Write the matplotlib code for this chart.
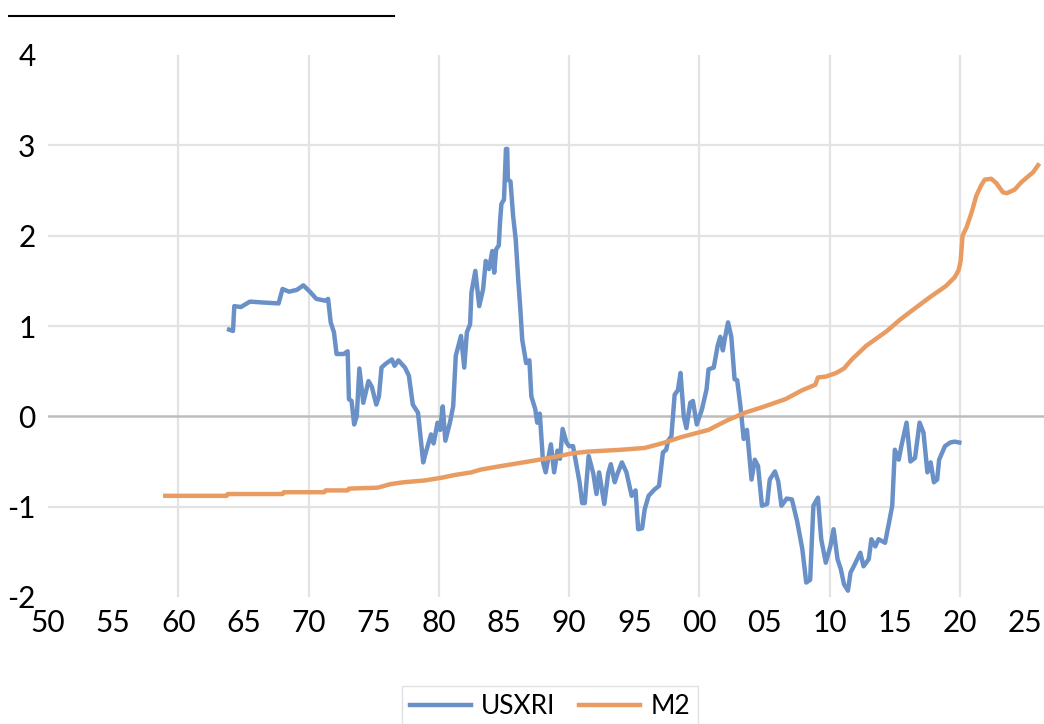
import numpy as np
import matplotlib.pyplot as plt
from matplotlib.lines import Line2D

plt.rcParams['font.family'] = ['Lato', 'DejaVu Sans']
plt.rcParams['axes.unicode_minus'] = False

# USXRI (decimal year, value)
usxri_year = [1963.9, 1964.2, 1964.3, 1964.8, 1965.5, 1966.5, 1967.7, 1968.0, 1968.5, 1969.1,
              1969.6, 1970.1, 1970.6, 1971.3, 1971.5, 1971.7, 1971.95, 1972.15, 1972.7, 1973.0,
              1973.1, 1973.3, 1973.5, 1973.7, 1973.9, 1974.2, 1974.6, 1974.85, 1975.2, 1975.4,
              1975.6, 1975.9, 1976.4, 1976.6, 1976.9, 1977.4, 1977.7, 1978.0, 1978.4, 1978.8,
              1979.0, 1979.4, 1979.6, 1979.9, 1980.1, 1980.3, 1980.5, 1980.85, 1981.1, 1981.3,
              1981.7, 1981.95, 1982.15, 1982.4, 1982.5, 1982.8, 1983.1, 1983.4, 1983.6, 1983.85,
              1984.1, 1984.25, 1984.4, 1984.6, 1984.7, 1984.8, 1985.0, 1985.15, 1985.25, 1985.3,
              1985.5, 1985.7, 1985.9, 1986.1, 1986.25, 1986.4, 1986.7, 1986.95, 1987.1, 1987.4,
              1987.55, 1987.75, 1988.0, 1988.2, 1988.6, 1988.85, 1989.1, 1989.3, 1989.5, 1989.8,
              1990.0, 1990.3, 1990.8, 1991.0, 1991.2, 1991.5, 1991.85, 1992.1, 1992.3, 1992.7,
              1993.0, 1993.2, 1993.5, 1993.7, 1994.05, 1994.4, 1994.8, 1995.1, 1995.3, 1995.6,
              1995.8, 1996.1, 1996.55, 1996.9, 1997.2, 1997.45, 1997.6, 1997.85, 1998.1, 1998.35,
              1998.55, 1998.8, 1999.0, 1999.3, 1999.5, 1999.8, 2000.2, 2000.55, 2000.7, 2001.1,
              2001.4, 2001.6, 2001.8, 2001.95, 2002.2, 2002.45, 2002.7, 2002.9, 2003.15, 2003.4,
              2003.65, 2004.0, 2004.25, 2004.5, 2004.8, 2005.2, 2005.4, 2005.8, 2006.05, 2006.3,
              2006.7, 2007.1, 2007.5, 2007.9, 2008.2, 2008.5, 2008.75, 2009.1, 2009.35, 2009.7,
              2010.05, 2010.3, 2010.6, 2010.85, 2011.1, 2011.4, 2011.6, 2011.85, 2012.35, 2012.6,
              2013.0, 2013.2, 2013.5, 2013.75, 2014.25, 2014.55, 2014.8, 2015.0, 2015.3, 2015.5,
              2015.9, 2016.2, 2016.55, 2016.9, 2017.2, 2017.5, 2017.75, 2018.0, 2018.25, 2018.4,
              2018.85, 2019.25, 2019.6, 2019.95]
usxri_val = [0.96, 0.945, 1.22, 1.21, 1.27, 1.26, 1.25, 1.41, 1.38, 1.40,
             1.45, 1.38, 1.30, 1.28, 1.30, 1.04, 0.93, 0.69, 0.69, 0.72,
             0.19, 0.17, -0.09, 0.00, 0.53, 0.15, 0.39, 0.33, 0.13, 0.22,
             0.54, 0.58, 0.63, 0.56, 0.62, 0.54, 0.45, 0.13, 0.04, -0.51,
             -0.40, -0.20, -0.30, -0.07, -0.15, 0.11, -0.27, -0.07, 0.11, 0.67,
             0.89, 0.54, 0.93, 1.02, 1.37, 1.61, 1.22, 1.41, 1.72, 1.63,
             1.83, 1.59, 1.85, 1.89, 2.16, 2.35, 2.40, 2.96, 2.96, 2.62,
             2.60, 2.22, 1.96, 1.50, 1.20, 0.85, 0.59, 0.62, 0.22, 0.08,
             -0.07, 0.03, -0.51, -0.62, -0.31, -0.62, -0.38, -0.47, -0.14, -0.29,
             -0.33, -0.33, -0.73, -0.96, -0.96, -0.44, -0.63, -0.86, -0.62, -0.97,
             -0.63, -0.53, -0.73, -0.64, -0.51, -0.62, -0.88, -0.82, -1.25, -1.24,
             -1.03, -0.88, -0.81, -0.77, -0.40, -0.37, -0.27, -0.22, 0.24, 0.29,
             0.48, 0.00, -0.13, 0.15, 0.17, -0.09, 0.08, 0.30, 0.52, 0.54,
             0.78, 0.88, 0.73, 0.86, 1.04, 0.88, 0.41, 0.40, 0.11, -0.25,
             -0.15, -0.70, -0.48, -0.55, -0.99, -0.97, -0.70, -0.61, -0.72, -0.99,
             -0.91, -0.92, -1.16, -1.47, -1.84, -1.81, -0.99, -0.90, -1.36, -1.62,
             -1.44, -1.25, -1.58, -1.69, -1.86, -1.93, -1.73, -1.66, -1.51, -1.66,
             -1.58, -1.36, -1.44, -1.36, -1.40, -1.18, -0.99, -0.37, -0.48, -0.33,
             -0.07, -0.50, -0.46, -0.07, -0.18, -0.62, -0.51, -0.73, -0.70, -0.48,
             -0.33, -0.29, -0.28, -0.29]

# M2
m2_year = [1959.0, 1963.7, 1963.8, 1968.0, 1968.1, 1971.2, 1971.3, 1973.0, 1973.1, 1975.3,
           1976.3, 1977.3, 1978.9, 1980.2, 1981.2, 1982.5, 1983.2, 1984.8, 1986.05, 1987.3,
           1988.9, 1990.2, 1991.5, 1994.0, 1995.8, 1997.1, 1998.6, 2000.7, 2002.2, 2003.5,
           2004.8, 2006.6, 2007.9, 2008.9, 2009.1, 2009.7, 2010.5, 2011.1, 2011.7, 2012.8,
           2014.35, 2015.4, 2016.4, 2017.7, 2018.9, 2019.6, 2019.9, 2020.05, 2020.2, 2020.5,
           2020.9, 2021.25, 2021.6, 2021.9, 2022.4, 2022.8, 2023.3, 2023.6, 2024.2, 2024.7,
           2025.1, 2025.6, 2026.0]
m2_val = [-0.88, -0.88, -0.86, -0.86, -0.84, -0.84, -0.82, -0.82, -0.80, -0.79,
          -0.75, -0.73, -0.71, -0.68, -0.65, -0.62, -0.59, -0.55, -0.52, -0.49,
          -0.45, -0.41, -0.39, -0.37, -0.35, -0.30, -0.23, -0.15, -0.04, 0.04,
          0.10, 0.19, 0.29, 0.35, 0.43, 0.44, 0.48, 0.53, 0.63, 0.78,
          0.94, 1.07, 1.18, 1.32, 1.44, 1.54, 1.62, 1.72, 2.00, 2.09,
          2.26, 2.44, 2.55, 2.62, 2.63, 2.58, 2.48, 2.47, 2.51, 2.59,
          2.64, 2.70, 2.78]

xticks = list(range(1950, 2030, 5))
xlabels = ['%02d' % (y % 100) for y in xticks]
yticks = [-2, -1, 0, 1, 2, 3, 4]

fig = plt.figure(figsize=(10.44, 7.24), dpi=100)
ax = fig.add_axes([48/1044, 127/724, 996/1044, 542/724])

# grid like excel
for yv in [-1, 1, 2, 3]:
    ax.axhline(yv, color='#e3e3e3', lw=1.6, zorder=0)
for xv in range(1960, 2030, 10):
    ax.axvline(xv, color='#e3e3e3', lw=1.6, zorder=0)
ax.axhline(0, color='#bdbdbd', lw=1.8, zorder=1)

ax.plot(usxri_year, usxri_val, color='#6a90c8', lw=3.2, label='USXRI', zorder=3)
ax.plot(m2_year, m2_val, color='#e89c62', lw=3.2, label='M2', zorder=4)

ax.set_xlim(1950, 2026.45)
ax.set_ylim(-2, 4)
ax.set_xticks(xticks)
ax.set_xticklabels(xlabels)
ax.set_yticks(yticks)
ax.tick_params(axis='both', length=0, labelsize=21.5)
ax.tick_params(axis='y', pad=9)
ax.tick_params(axis='x', pad=9)
for s in ax.spines.values():
    s.set_visible(False)

fig.legend(loc='upper center', bbox_to_anchor=(550/1044, 38/724), ncol=2,
           fontsize=19, frameon=True, fancybox=False, edgecolor='#d9d9d9',
           handlelength=2.3, handletextpad=0.4, columnspacing=0.9,
           borderpad=0.3, borderaxespad=0)

fig.add_artist(Line2D([9/1044, 394/1044], [1 - 15.5/724, 1 - 15.5/724],
                      color='black', lw=1.5, transform=fig.transFigure))

fig.savefig('out.png', dpi=100)
